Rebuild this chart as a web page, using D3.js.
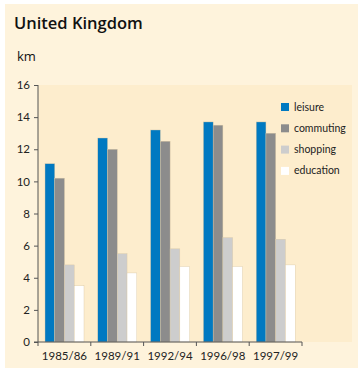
<!DOCTYPE html>
<html><head><meta charset="utf-8">
<script src="https://cdn.jsdelivr.net/npm/d3@7"></script>
<style>body{margin:0;background:#fff;}svg{display:block;font-family:"Lato","Open Sans",sans-serif;}</style>
</head><body>
<script>
const categories = ["1985/86","1989/91","1992/94","1996/98","1997/99"];
const seriesNames = ["leisure","commuting","shopping","education"];
const leisure   = [11.1, 12.7, 13.2, 13.7, 13.7];
const commuting = [10.2, 12.0, 12.5, 13.5, 13.0];
const shopping  = [4.8, 5.5, 5.8, 6.5, 6.4];
const education = [3.5, 4.3, 4.7, 4.7, 4.8];
const yTicks = [0,2,4,6,8,10,12,14,16];
const colors = ["#0079c1","#8c8c8c","#cdcdcd","#ffffff"];
const seriesData = [leisure, commuting, shopping, education];

const W=364,H=374;
const svg=d3.select("body").append("svg").attr("width",W).attr("height",H);
svg.append("rect").attr("x",5).attr("y",4).attr("width",353).attr("height",364).attr("fill","#fef3dc");
const m={l:38,t:85,r:350,b:342};
svg.append("rect").attr("x",m.l).attr("y",m.t).attr("width",m.r-m.l+2).attr("height",m.b-m.t).attr("fill","#fdedcd");

svg.append("text").attr("x",14).attr("y",29).attr("font-size",16.5).attr("font-weight",600)
 .attr("font-family","Open Sans, sans-serif").attr("fill","#111").text("United Kingdom");
svg.append("text").attr("x",17).attr("y",61).attr("font-size",13).attr("font-family","Open Sans, sans-serif").attr("fill","#111").text("km");

const y=d3.scaleLinear().domain([0,16]).range([m.b,m.t]);
const x0=d3.scaleBand().domain(categories).range([m.l,m.l+5*52.8]).paddingInner(0).paddingOuter(0);
const x1=d3.scaleBand().domain(seriesNames).range([7,46]);

const rows=categories.map((c,i)=>({c,vals:seriesNames.map((s,j)=>({s,j,v:seriesData[j][i]}))}));
const g=svg.append("g");
g.selectAll("g.cat").data(rows).join("g").attr("transform",d=>`translate(${x0(d.c)},0)`)
 .selectAll("rect").data(d=>d.vals).join("rect")
 .attr("x",d=>x1(d.s)).attr("width",x1.bandwidth())
 .attr("y",d=>y(d.v)).attr("height",d=>m.b-y(d.v))
 .attr("fill",d=>colors[d.j]).attr("stroke","#d9c9a6").attr("stroke-width",0.4);

const ya=svg.append("g").attr("transform",`translate(${m.l},0)`)
 .call(d3.axisLeft(y).tickValues(yTicks).tickSize(4).tickPadding(4).tickFormat(d3.format("d")));
const xa=svg.append("g").attr("transform",`translate(0,${m.b})`)
 .call(d3.axisBottom(x0).tickSize(0).tickPadding(10));
[ya,xa].forEach(a=>{a.selectAll("path,line").attr("stroke","#555");a.selectAll("text").attr("font-size",11.5).attr("fill","#222").attr("font-family","Lato, sans-serif");});
ya.select(".domain").attr("d",`M0,${m.t}V${m.b}`);
xa.select(".domain").attr("d",`M${m.l-4},0H${m.l+5*52.8}`);
xa.selectAll("line.bt").data(d3.range(6)).join("line").attr("class","bt")
 .attr("x1",i=>m.l+i*52.8).attr("x2",i=>m.l+i*52.8).attr("y1",0).attr("y2",4).attr("stroke","#555");

const lg=svg.append("g").attr("transform","translate(281,103)");
seriesNames.forEach((s,i)=>{
 const r=lg.append("g").attr("transform",`translate(0,${i*21.3})`);
 r.append("rect").attr("width",8).attr("height",8).attr("fill",colors[i]);
 r.append("text").attr("x",13).attr("y",7.5).attr("font-size",10.5).attr("fill","#222").text(s);
});
</script>
</body></html>
